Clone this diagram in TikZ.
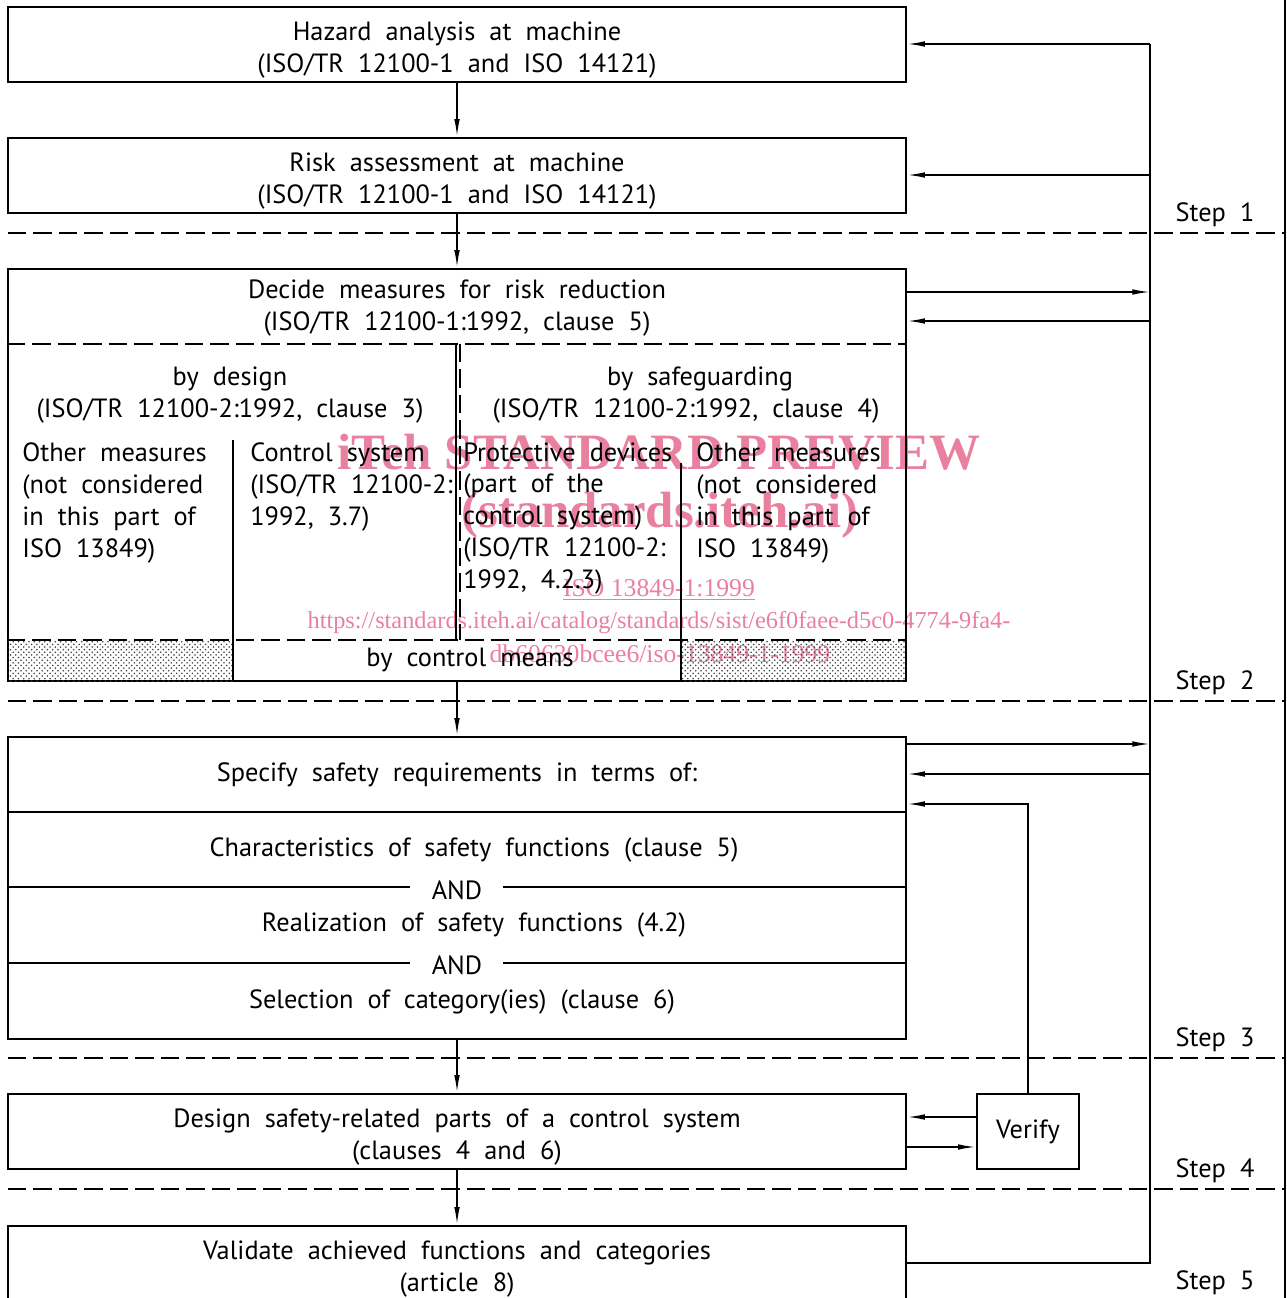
\documentclass[tikz,border=0pt]{standalone}
\usepackage{fontspec}
\setmainfont[WordSpace=2.0]{PT Sans}
\newfontfamily\wmfont{Liberation Serif}
\usepackage{tikz}
\usetikzlibrary{positioning,arrows.meta,calc,patterns}
\definecolor{wmpink}{RGB}{234,128,160}
\newcommand\boxgap{\rule{0pt}{16.5pt}}

\begin{document}
\begin{tikzpicture}[x=0.02cm,y=-0.02cm,>={Latex[length=10pt,width=3.2pt]},
  font=\fontsize{15}{18.2}\selectfont,
  box/.style={draw,line width=1.6pt,minimum width=17.96cm,minimum height=1.5cm,align=center,inner sep=0pt},
  txt/.style={align=center,inner sep=0pt},
  col/.style={align=left,anchor=north west,inner sep=0pt},
  flow/.style={->,line width=0.9pt},
  sep/.style={line width=1.1pt,dash pattern=on 10.5pt off 4pt},
  wm/.style={text=wmpink,font=\wmfont\fontsize{14.6}{16}\selectfont,inner sep=0pt}]
\useasboundingbox (0,0) rectangle (1287,1298);

% watermark, below the drawing
\node[wm,font=\wmfont\bfseries\fontsize{29}{30}\selectfont] (wm1) at (659,452) {iTeh STANDARD PREVIEW};
\node[wm,font=\wmfont\bfseries\fontsize{29}{30}\selectfont] (wm2) at (660,515) {(standards.iteh.ai)};
\node[wm] (wm3) at (659,590) {\underline{ISO 13849-1:1999}};
\node[wm,font=\wmfont\fontsize{13.85}{16}\selectfont] (wm4) at (659,623) {https://standards.iteh.ai/catalog/standards/sist/e6f0faee-d5c0-4774-9fa4-};
\node[wm] (wm5) at (660,654) {db60630bcee6/iso-13849-1-1999};

\node[box] (hazard) at (457,44.5) {\boxgap Hazard analysis at machine\\(ISO/TR 12100-1 and ISO 14121)};
\node[box] (risk) at (457,175.5) {\boxgap Risk assessment at machine\\(ISO/TR 12100-1 and ISO 14121)};
\node[box,minimum height=8.24cm] (decide) at (457,475) {};
\node[box,minimum height=6.04cm] (specify) at (457,888) {};
\node[box] (design) at (457,1131.5) {\boxgap Design safety-related parts of a control system\\(clauses 4 and 6)};
\node[box,minimum width=2.04cm] (verify) at (1028,1131.5) {Verify};
\node[box] (validate) at (457,1263.5) {\boxgap Validate achieved functions and categories\\(article 8)};

% inside the decide box
\fill[pattern=crosshatch dots,pattern color=black!75] (8,640) rectangle (233,681);
\fill[pattern=crosshatch dots,pattern color=black!75] (681,640) rectangle (906,681);
\draw[sep] (decide.west |- 0,344) -- (decide.east |- 0,344);
\draw[sep] (decide.west |- 0,640) -- (decide.east |- 0,640);
\draw[line width=1.3pt] (456,344) -- (456,640);
\draw[sep,line width=0.9pt] (460,344) -- (460,640);
\draw[line width=1.3pt] (233,440) -- (233,681);
\draw[line width=1.3pt] (681,463) -- (681,681);
\node[txt] (decidetxt) at (457,308) {Decide measures for risk reduction\\(ISO/TR 12100-1:1992, clause 5)};
\node[txt] (bydesign) at (230,395) {by design\\(ISO/TR 12100-2:1992, clause 3)};
\node[txt] (bysafe) at (686,395) {\hspace*{40\pgflinewidth}by safeguarding\\(ISO/TR 12100-2:1992, clause 4)};
\node[col] (othera) at (22,442) {Other measures\\(not considered\\in this part of\\ISO 13849)};
\node[col] (control) at (250,442) {Control system\\(ISO/TR 12100-2:\\1992, 3.7)};
\node[col] (protect) at (463,442) {Protective devices\\(part of the\\control system)\\(ISO/TR 12100-2:\\1992, 4.2.3)};
\node[col] (otherb) at (696,442) {Other measures\\(not considered\\in this part of\\ISO 13849)};
\node[txt] (bycontrol) at (470,660) {by control means};

% inside the specify box
\node[txt] (spectxt) at (457,775) {Specify safety requirements in terms of:};
\node[txt] (charact) at (474,850) {Characteristics of safety functions (clause 5)};
\node[txt] (and1) at (457,890) {AND};
\node[txt] (realize) at (474,925) {Realization of safety functions (4.2)};
\node[txt] (and2) at (457,965) {AND};
\node[txt] (select) at (462,1002) {Selection of category(ies) (clause 6)};
\draw[line width=1.3pt] (specify.west |- 0,812) -- (specify.east |- 0,812);
\foreach \y in {887,963}{
  \draw[line width=1.3pt] (specify.west |- 0,\y) -- (410,\y);
  \draw[line width=1.3pt] (503,\y) -- (specify.east |- 0,\y);}

% steps
\foreach \y/\s in {233/1,701/2,1058/3,1189/4}{
  \draw[sep] (8,\y) -- (1285,\y);
  \node[txt] (step\s) at (1215,\y-18) {Step \s};}
\node[txt] (step5) at (1215,1283) {Step 5};
\draw[line width=1.6pt] (1285,0) -- (1285,1298);

% flow down
\draw[flow] (hazard) -- (risk);
\draw[flow] (risk) -- (decide);
\draw[flow] (decide) -- (specify);
\draw[flow] (specify) -- (design);
\draw[flow] (design) -- (validate);

% feedback
\coordinate (bustop) at (1150,44);
\coordinate (busbot) at (1150,1263);
\draw[line width=0.9pt] (validate.east |- busbot) -- (busbot) -- (bustop);
\draw[flow] (bustop) -- (hazard.east |- bustop);
\draw[flow] (1150,175) -- (risk.east |- 0,175);
\draw[flow] (decide.east |- 0,292) -- (1150,292);
\draw[flow] (1150,321) -- (decide.east |- 0,321);
\draw[flow] (specify.east |- 0,744) -- (1150,744);
\draw[flow] (1150,774) -- (specify.east |- 0,774);
\draw[flow] (verify.north) -- (verify.north |- 0,804) -- (specify.east |- 0,804);
\draw[flow] (verify.west |- 0,1117) -- (design.east |- 0,1117);
\draw[flow] (design.east |- 0,1147) -- (verify.west |- 0,1147);
\end{tikzpicture}
\end{document}
